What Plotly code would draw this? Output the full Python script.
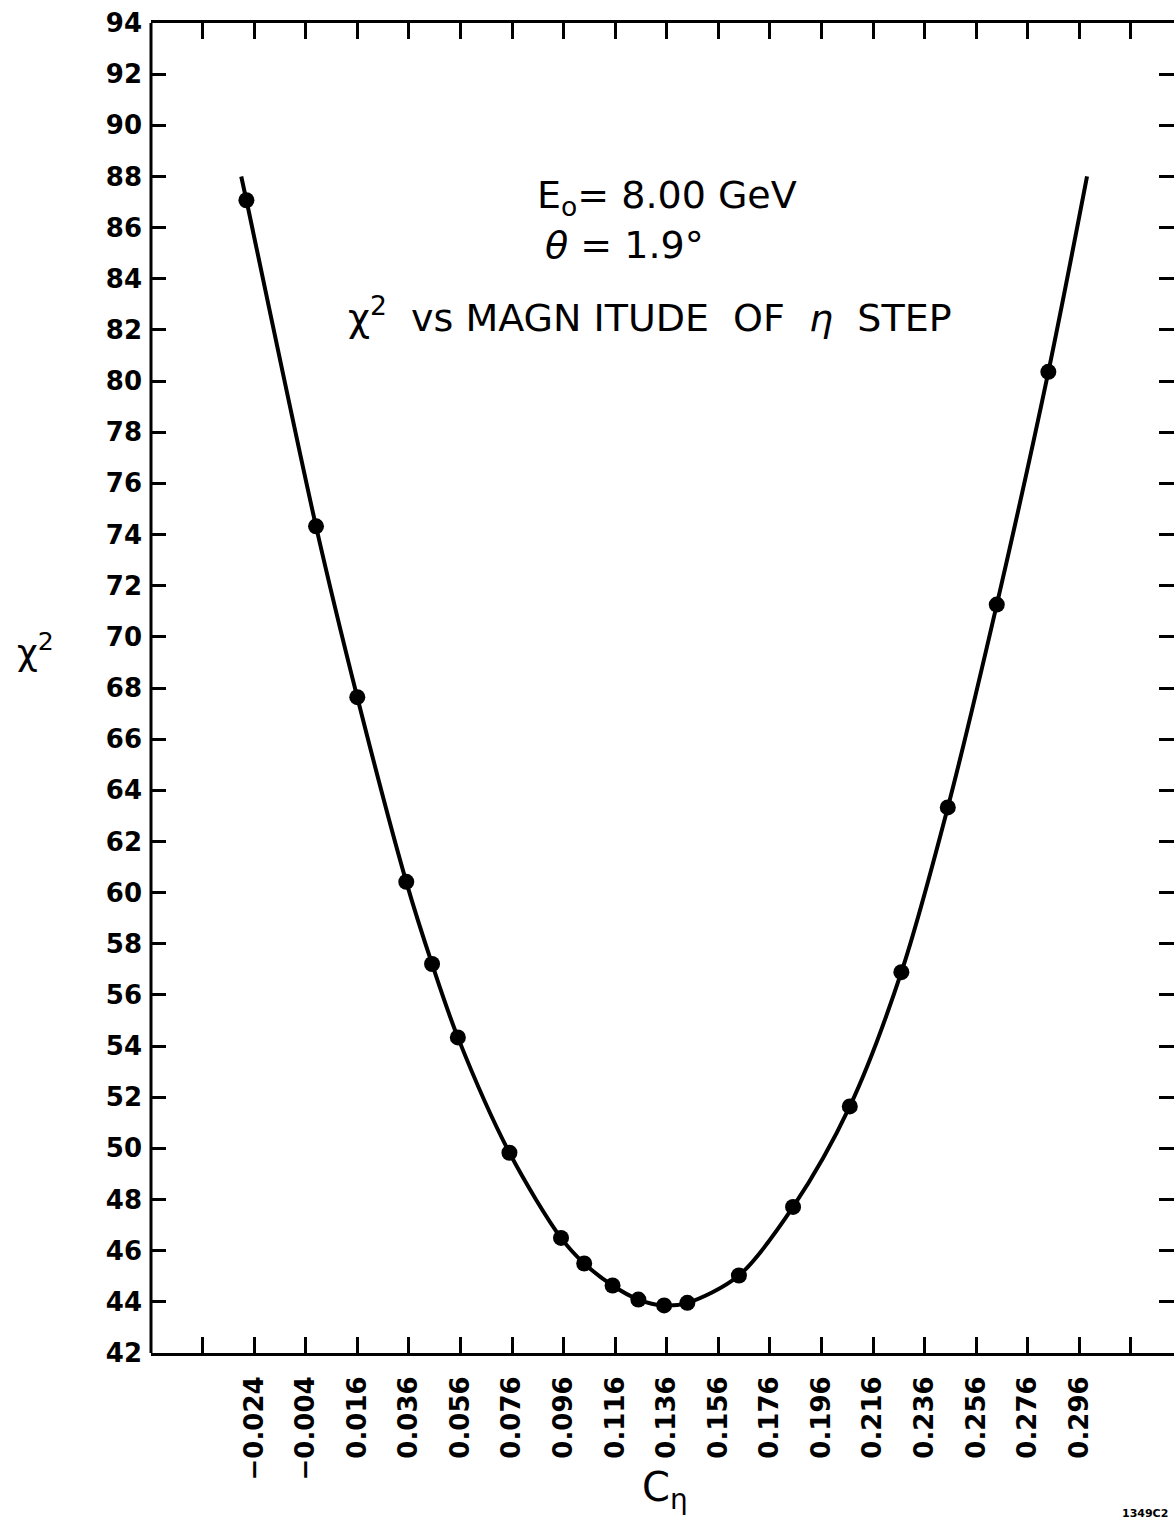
import plotly.graph_objects as go

# ---- data ----
c_eta = [-0.027, 0.000, 0.016, 0.035, 0.045, 0.055, 0.075, 0.095, 0.104, 0.115,
         0.125, 0.135, 0.144, 0.164, 0.185, 0.207, 0.227, 0.245, 0.264, 0.284]
chi2 = [87.07, 74.32, 67.64, 60.42, 57.21, 54.34, 49.83, 46.50, 45.50, 44.64,
        44.09, 43.86, 43.96, 45.03, 47.71, 51.64, 56.89, 63.33, 71.26, 80.36]
# fitted curve extends beyond the measured points to these ends
curve_left_end = (-0.029, 88.0)
curve_right_end = (0.299, 88.0)

x_tick_vals = [-0.044, -0.024, -0.004, 0.016, 0.036, 0.056, 0.076, 0.096, 0.116, 0.136,
               0.156, 0.176, 0.196, 0.216, 0.236, 0.256, 0.276, 0.296, 0.316]
x_tick_text = ["", "−0.024", "−0.004", "0.016", "0.036", "0.056", "0.076", "0.096", "0.116",
               "0.136", "0.156", "0.176", "0.196", "0.216", "0.236", "0.256", "0.276",
               "0.296", ""]
y_tick_vals = list(range(42, 95, 2))

# ---- layout geometry ----
W, H = 1174, 1525
L, R, T, B = 151, 0, 23, 172
px_per_unit_x = 2578.6
x0 = -0.064
x1 = x0 + (W - L - R) / px_per_unit_x
y0, y1 = 42, 94

def px_to_x(px):
    return x0 + (px - L) / px_per_unit_x

def py_to_y(py):
    return y1 - (py - T) * (y1 - y0) / (H - T - B)

curve_x = [curve_left_end[0]] + c_eta + [curve_right_end[0]]
curve_y = [curve_left_end[1]] + chi2 + [curve_right_end[1]]

fig = go.Figure()
fig.add_trace(go.Scatter(
    x=curve_x, y=curve_y, mode="lines",
    line=dict(color="black", width=4, shape="spline", smoothing=0.9),
    hoverinfo="skip", showlegend=False))
fig.add_trace(go.Scatter(
    x=c_eta, y=chi2, mode="markers",
    marker=dict(color="black", size=16),
    showlegend=False))

tick_font = dict(family="DejaVu Sans", size=26, color="black", weight="bold")
label_font = dict(family="DejaVu Sans", size=38, color="black")

fig.update_layout(
    width=W, height=H,
    margin=dict(l=L, r=R, t=T, b=B, pad=0),
    paper_bgcolor="white", plot_bgcolor="white",
    showlegend=False,
    xaxis=dict(
        range=[x0, x1], showgrid=False, zeroline=False,
        showline=True, linecolor="black", linewidth=3, mirror="ticks",
        ticks="inside", ticklen=16, tickwidth=2.5, tickcolor="black",
        tickmode="array", tickvals=x_tick_vals, ticktext=x_tick_text,
        tickangle=-90, tickfont=tick_font, ticklabelstandoff=10,
    ),
    yaxis=dict(
        range=[y0, y1], showgrid=False, zeroline=False,
        showline=False, mirror="ticks",
        ticks="inside", ticklen=15, tickwidth=2.5, tickcolor="black",
        tickmode="array", tickvals=y_tick_vals,
        tickfont=tick_font, ticklabelstandoff=8,
    ),
    shapes=[
        dict(type="line", xref="paper", yref="paper", x0=0, x1=0, y0=0, y1=1,
             line=dict(color="black", width=3)),
    ],
    annotations=[
        dict(text="E<sub>o</sub>= 8.00 GeV", x=px_to_x(535), y=py_to_y(197),
             xref="x", yref="y", xanchor="left", yanchor="middle",
             showarrow=False, font=label_font),
        dict(text="<i>θ</i> = 1.9°", x=px_to_x(543), y=py_to_y(245),
             xref="x", yref="y", xanchor="left", yanchor="middle",
             showarrow=False, font=label_font),
        dict(text="χ<sup>2</sup>  vs MAGN ITUDE  OF  <i>η</i>  STEP", x=px_to_x(346), y=py_to_y(315),
             xref="x", yref="y", xanchor="left", yanchor="middle",
             showarrow=False, font=label_font),
        dict(text="χ<sup>2</sup>", x=(35 - L) / (W - L - R), y=1 - (650 - T) / (H - T - B),
             xref="paper", yref="paper", xanchor="center", yanchor="middle",
             showarrow=False, font=dict(family="DejaVu Sans", size=36, color="black")),
        dict(text="C<sub>η</sub>", x=(665 - L) / (W - L - R), y=1 - (1490 - T) / (H - T - B),
             xref="paper", yref="paper", xanchor="center", yanchor="middle",
             showarrow=False, font=dict(family="DejaVu Sans", size=40, color="black")),
        dict(text="1349C2", x=(1145 - L) / (W - L - R), y=1 - (1513 - T) / (H - T - B),
             xref="paper", yref="paper", xanchor="center", yanchor="middle",
             showarrow=False, font=dict(family="DejaVu Sans", size=11, color="black", weight="bold")),
    ],
)

fig.write_html("out.html")
